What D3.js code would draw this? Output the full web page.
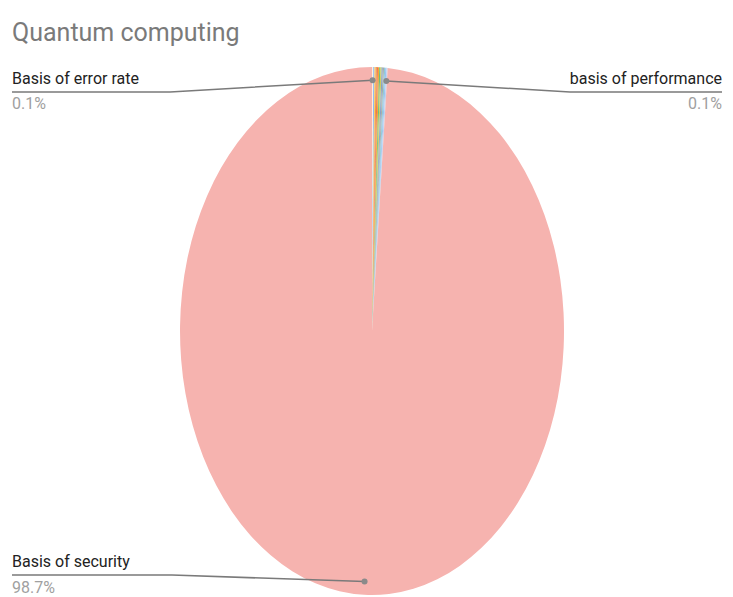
<!DOCTYPE html>
<html>
<head>
<meta charset="utf-8">
<script src="https://cdn.jsdelivr.net/npm/d3@7"></script>
<style>
  html, body { margin: 0; padding: 0; background: #fff; }
  svg { display: block; font-family: Roboto, "Noto Sans", Arial, sans-serif; }
</style>
</head>
<body>
<svg id="chart" width="733" height="597"></svg>
<script>
// Share of topics, in clockwise order starting at 12 o'clock
const categories = [
  "Basis of error rate",
  "Basis of coherence time",
  "Basis of qubit count",
  "Basis of gate fidelity",
  "Basis of connectivity",
  "Basis of scalability",
  "Basis of cost",
  "Basis of energy use",
  "Basis of speed",
  "Basis of stability",
  "Basis of algorithms",
  "Basis of hardware",
  "basis of performance",
  "Basis of security"
];
const values = [0.1, 0.1, 0.1, 0.1, 0.1, 0.1, 0.1, 0.1, 0.1, 0.1, 0.1, 0.1, 0.1, 98.7];
const colors = [
  "#fbf1df", "#8fb8f2", "#f7cb6a", "#f3953f", "#ea7555", "#f5a82e", "#6fbd80",
  "#cfcc5c", "#86a3c8", "#aaaaaa", "#8ccbd8", "#9cc2f0", "#bcd4ef", "#f6b3af"
];
// Slices that carry an outside label
const labelled = ["Basis of error rate", "basis of performance", "Basis of security"];

const svg = d3.select("#chart");

svg.append("text")
  .attr("x", 12).attr("y", 41)
  .attr("font-size", 25)
  .attr("fill", "#7a7a7a")
  .text("Quantum computing");

// Pie geometry (drawn on a unit circle, then stretched into an ellipse)
const cx = 372, cy = 331, rx = 192, ry = 264;
const R = 100;

const pie = d3.pie().sort(null).value(d => d.value);
const data = categories.map((c, i) => ({ name: c, value: values[i], color: colors[i] }));
const arcs = pie(data);
const arc = d3.arc().innerRadius(0).outerRadius(R);

const g = svg.append("g")
  .attr("transform", `translate(${cx},${cy}) scale(${rx / R},${ry / R})`);

g.selectAll("path")
  .data(arcs)
  .join("path")
  .attr("d", arc)
  .attr("fill", d => d.data.color);

// Anchor point inside a slice, in page coordinates
function anchor(a, f) {
  const m = (a.startAngle + a.endAngle) / 2;
  return [cx + Math.sin(m) * rx * f, cy - Math.cos(m) * ry * f];
}

const fmt = a => d3.format(".1f")(a.data.value / d3.sum(values) * 100) + "%";

const layout = {
  "Basis of error rate":  { side: "left",  lineY: 92,  elbow: 170, textY: 84,  pctY: 109 },
  "basis of performance": { side: "right", lineY: 92,  elbow: 570, textY: 84,  pctY: 109 },
  "Basis of security":    { side: "left",  lineY: 575, elbow: 172, textY: 567, pctY: 593 }
};

const lineColor = "#7a7a7a";
arcs.filter(a => labelled.includes(a.data.name)).forEach(a => {
  const L = layout[a.data.name];
  const p = anchor(a, 0.95);
  const edge = L.side === "left" ? 12 : 722;
  svg.append("path")
    .attr("d", d3.line()([[edge, L.lineY], [L.elbow, L.lineY], p]))
    .attr("fill", "none")
    .attr("stroke", lineColor)
    .attr("stroke-width", 1.5);
  svg.append("circle")
    .attr("cx", p[0]).attr("cy", p[1]).attr("r", 3)
    .attr("fill", "#8a8a8a");
  const anchorText = L.side === "left" ? "start" : "end";
  svg.append("text")
    .attr("x", edge).attr("y", L.textY)
    .attr("text-anchor", anchorText)
    .attr("font-size", 16)
    .attr("fill", "#222")
    .text(a.data.name);
  svg.append("text")
    .attr("x", edge).attr("y", L.pctY)
    .attr("text-anchor", anchorText)
    .attr("font-size", 16)
    .attr("fill", "#a0a0a0")
    .text(fmt(a));
});
</script>
</body>
</html>
